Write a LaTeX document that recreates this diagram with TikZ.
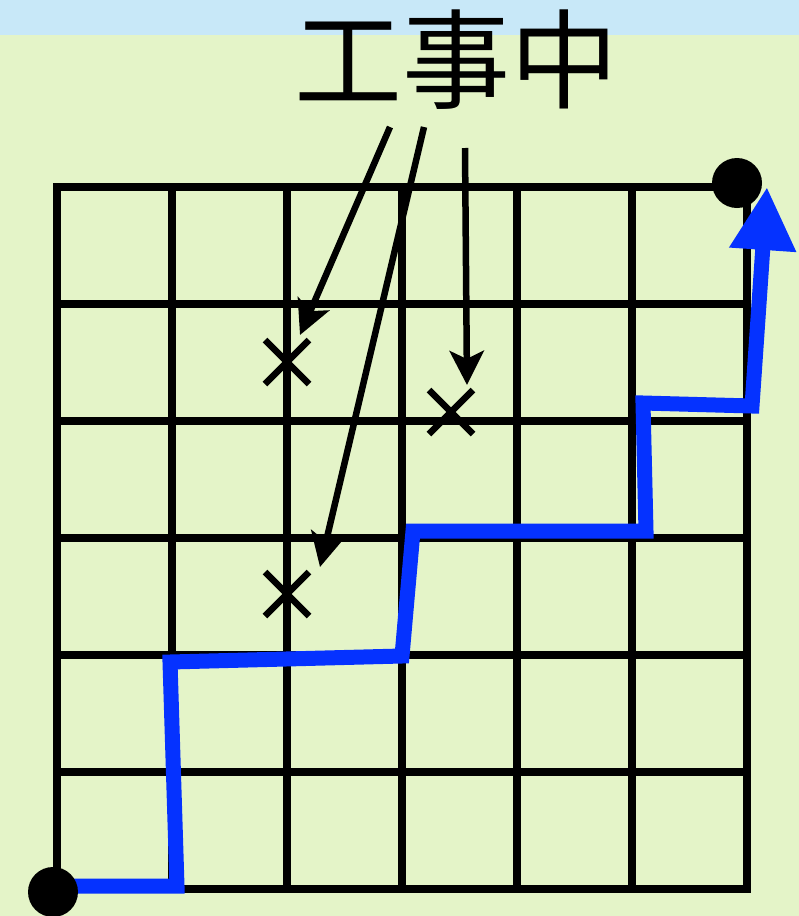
\documentclass[tikz,border=0pt]{standalone}
\usepackage{fontspec}
\newfontfamily\cjk{Noto Sans CJK JP}
\usetikzlibrary{arrows.meta}
\definecolor{bggreen}{RGB}{228,244,200}
\definecolor{bgblue}{RGB}{200,232,248}
\definecolor{pathblue}{RGB}{5,50,255}
\begin{document}
\begin{tikzpicture}[x=1pt,y=-1pt,
  gridline/.style={line width=7.5pt, line cap=rect},
  callout/.style={line width=6.5pt, -{Stealth[length=34pt,width=34pt,inset=8pt]}},
  xmark/.style={line width=6.5pt},
  route/.style={line width=15pt, draw=pathblue, line join=miter, -{Triangle[length=63pt,width=63pt]}},
  dot/.style={circle, fill=black, minimum size=50pt, inner sep=0pt}]
\useasboundingbox (0,0) rectangle (799,916);
\fill[bggreen] (0,0) rectangle (799,916);
\fill[bgblue] (0,0) rectangle (799,35);
% grid
\foreach \k in {0,...,6} {
  \draw[gridline] ({57+115*\k},187) -- ({57+115*\k},889);
  \draw[gridline] (57,{187+117*\k}) -- (747,{187+117*\k});
}
% label
\node[font=\cjk\fontsize{108}{120}\selectfont, inner sep=0pt] (lbl) at (456,60) {工事中};
% x marks
\foreach \n/\x/\y in {x1/287/362, x2/451/412, x3/287/594} {
  \coordinate (\n) at (\x,\y);
  \draw[xmark] ([shift={(-22,-22)}]\n) -- ([shift={(22,22)}]\n);
  \draw[xmark] ([shift={(-22,22)}]\n) -- ([shift={(22,-22)}]\n);
}
% callout arrows
\coordinate (a1) at (390,127);
\coordinate (a2) at (424,127);
\coordinate (a3) at (465,148);
\coordinate (t1) at (300,335);
\coordinate (t2) at (320,567);
\coordinate (t3) at (467,385);
\draw[callout] (a1) -- (t1);
\draw[callout] (a2) -- (t2);
\draw[callout] (a3) -- (t3);
% route
\coordinate (r0) at (57,886);
\coordinate (r1) at (177,886);
\coordinate (r2) at (170,662);
\coordinate (r3) at (402,656);
\coordinate (r4) at (413,531);
\coordinate (r5) at (646,531);
\coordinate (r6) at (643,403);
\coordinate (r7) at (752,406);
\coordinate (r8) at (767,187);
\draw[route] (r0) -- (r1) -- (r2) -- (r3) -- (r4) -- (r5) -- (r6) -- (r7) -- (r8);
% dots
\node[dot] (start) at (53,892) {};
\node[dot] (goal) at (737,183) {};
\end{tikzpicture}
\end{document}
